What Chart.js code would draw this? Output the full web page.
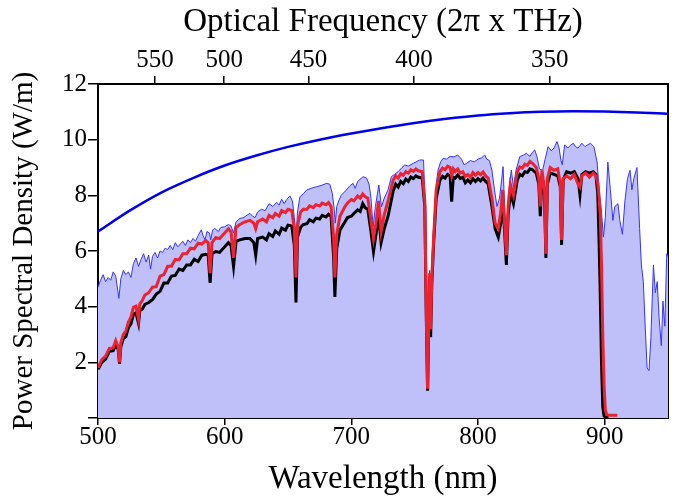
<!DOCTYPE html>
<html><head><meta charset="utf-8">
<script src="https://cdn.jsdelivr.net/npm/chart.js@4"></script>
<style>html,body{margin:0;padding:0;background:#fff}</style>
</head><body>
<canvas id="c" width="676" height="498"></canvas>
<script>
// ---- tick labels ----
const wlTicks = [500, 600, 700, 800, 900];
const freqTicks = [550, 500, 450, 400, 350];   // optical frequency (THz) labels on top axis
const yTicks = [0, 2, 4, 6, 8, 10, 12];

// ---- smooth blue reference curve ----
const smoothWl    = [500,525,550,575,600,625,650,675,700,725,750,775,800,825,850,875,900,925,950];
const smoothPower = [6.70,7.45,8.10,8.62,9.07,9.43,9.74,10.00,10.22,10.42,10.60,10.75,10.87,10.95,11.00,11.02,11.01,10.98,10.93];

// ---- filled (lavender) spectrum ----
const fillWl = [500,502,504,506,508,510,512,514,516.5,518,520,522,524,526,528,530,532,534,536,538,540,541.5,543,545,547,549,551,553,555,557,559,561,563,565,567,569,571,573,575,577,579,581.5,583,584.5,586,588,589,590.5,592,595,597,600,603,605,607,609,612,615,618,620,622,624,626,629,632,635,638,641,643,645,647,649,651.5,653.5,655,656.3,657.5,659.4,662,664.7,668,672.6,676,680.4,683,685,686.5,687.3,688.5,690,692,696,699,701.4,703,705,709.3,712,714,715.5,717.2,719,721.7,723.8,726,729,731.6,734,737,740,742.2,745,748.8,751,754,757,758,759.3,760.2,761.2,761.8,762.6,763.5,765,767,768.5,770.5,772.5,775,778,781,784,787,789,791,794,797,800,803,805.3,807,809,811,813,815,817,819.8,821,822.4,824,826.3,828,830,833,836,838.2,841,843,844.8,846.5,848.5,851,853,855.3,858,860,862.4,864,865.5,866.5,868.4,871,873,875.3,877,879,882,884.5,886,888.8,891.5,894,896,897.5,899,900.5,902.5,904.5,906.5,908,910.5,912,914,916,918,920,921.5,923,925.5,927.6,929,930.5,932,933.5,935,936.5,938.5,940,941.5,943,944.7,946,947.5,949,950];
const fillPower = [4.70,4.95,5.15,4.90,5.05,4.95,5.25,5.10,4.30,5.00,5.30,5.15,5.25,5.05,5.55,5.75,5.45,5.70,5.90,5.60,5.85,5.35,5.80,5.95,5.75,6.00,5.95,6.10,6.05,6.20,6.05,6.30,6.15,6.25,6.35,6.20,6.40,6.30,6.45,6.35,6.55,6.76,6.55,6.40,6.70,6.65,6.40,6.75,6.82,6.70,6.85,6.87,6.95,6.90,6.65,7.05,7.17,7.20,7.30,7.35,7.25,7.20,7.40,7.50,7.45,7.70,7.60,7.75,7.65,7.86,7.70,7.85,7.98,7.80,7.20,6.55,7.40,7.95,8.05,8.19,8.25,8.31,8.35,8.43,8.40,8.07,7.50,7.00,7.60,7.80,8.00,8.19,8.35,8.43,8.25,8.50,8.67,8.62,8.40,7.90,6.87,7.60,8.37,7.59,7.90,8.20,8.67,8.75,8.85,9.00,9.09,9.05,9.15,9.20,9.27,9.27,8.00,3.60,1.10,4.20,5.30,3.30,5.20,6.70,8.40,8.91,9.20,9.33,9.30,9.40,9.38,9.45,9.30,9.10,9.15,9.25,9.20,9.30,9.35,9.45,9.30,9.25,8.90,8.20,7.60,7.90,9.03,7.60,6.20,8.00,8.91,8.30,8.90,9.39,9.45,9.51,9.40,9.55,9.63,9.40,8.95,8.90,9.30,9.75,9.60,9.70,9.93,9.70,9.25,9.10,9.81,9.70,9.80,9.87,9.75,9.70,9.87,9.75,9.80,9.87,9.75,9.20,8.00,7.40,6.50,7.20,9.20,8.20,7.10,7.60,7.70,7.10,6.60,7.80,8.60,8.90,8.20,8.60,9.00,6.80,5.50,4.90,3.30,1.80,1.70,2.90,5.50,4.50,4.90,3.60,2.60,4.20,3.30,5.90,5.80];

// ---- measured red and black spectra (shared wavelength grid) ----
const lineWl = [500,503,506,509,512,514,516,517,518,520,522,524,526,528,530,
  532,533,535,537,540,543,546,549,552,555,558,561,564,567,570,
  573,576,579,582,585,587,588.5,590,593,596,600,603,605,607,609,
  612,616,620,623,624.5,626,630,633,635,638,640,643,645,648,650,653,655,656.3,657.5,
  660,662,665,667,670,672,675,677,680,682,684,686,687,688.5,691,
  695,697,700,702,705,707,709,711,713,
  715.5,717.5,719.5,721.5,723.5,726,729,733,735,737,739,741,743,745,747,749,751,753,756,758,
  759.3,760.2,761.2,761.8,762.6,763.5,765,767,
  770,772,774,776,778,779.2,780.5,782,784,786,788,790,792,794,796,798,800,802,804,806,808,
  811,813.5,816,818,819.5,821,822.4,823.8,825.5,828,
  831,833,835,837,839,841,843,846,848,849.2,850.5,852.5,853.6,854.8,857,860,863,865,
  866,867.2,870,873,876,879,880.5,882,885,888,891,893,894.5,895.5,896.5,
  897.5,898.5,899.5,900.5,901.5,903,906,910];
const redPower = [1.80,2.10,2.22,2.50,2.52,2.78,2.55,2.00,2.70,3.00,3.12,3.45,3.62,3.98,4.02,
  3.55,4.10,4.22,4.42,4.50,4.70,4.72,5.10,5.15,5.45,5.45,5.70,5.68,5.90,5.90,
  6.10,6.08,6.28,6.25,6.38,6.30,5.20,6.30,6.48,6.45,6.65,6.80,6.70,5.75,6.85,
  6.95,7.05,7.10,7.00,6.80,7.05,7.15,7.05,7.28,7.20,7.35,7.25,7.45,7.38,7.50,7.45,6.80,5.05,6.90,
  7.40,7.50,7.50,7.62,7.56,7.66,7.62,7.72,7.66,7.74,7.60,6.50,5.05,6.60,7.25,
  7.60,7.72,7.85,7.80,7.98,7.90,8.05,7.95,7.90,
  7.10,6.45,7.00,7.80,6.70,7.30,7.80,8.55,8.70,8.62,8.78,8.72,8.85,8.80,8.92,8.86,8.95,8.88,8.85,7.80,
  3.50,1.05,4.00,5.20,3.20,5.00,6.50,8.20,
  8.85,8.98,8.92,9.05,9.00,8.70,8.95,8.85,8.95,8.80,8.85,8.68,8.75,8.65,8.82,8.72,8.82,8.74,8.84,8.70,8.62,
  7.90,7.00,6.80,7.40,8.20,7.00,5.85,7.60,8.40,8.00,
  8.85,9.02,8.98,9.12,9.08,9.22,9.15,9.00,8.60,7.60,8.90,8.20,5.90,8.60,9.00,8.90,8.95,8.40,
  6.40,8.60,8.70,8.60,8.75,8.40,8.30,8.70,8.80,8.65,8.80,8.70,8.45,8.00,7.30,
  5.50,3.00,1.20,0.30,0.12,0.10,0.10,0.10];
const blackPower = [1.75,2.00,2.12,2.40,2.42,2.65,2.45,1.95,2.55,2.85,2.92,3.25,3.38,3.72,3.78,
  3.40,3.85,3.92,4.08,4.15,4.25,4.45,4.55,4.85,4.85,5.10,5.12,5.35,5.30,5.50,
  5.50,5.70,5.62,5.85,5.88,5.85,4.85,5.90,5.98,5.95,6.15,6.30,6.20,5.45,6.35,
  6.40,6.45,6.45,6.30,5.85,6.45,6.50,6.40,6.62,6.52,6.72,6.60,6.82,6.75,6.93,6.90,6.20,4.15,6.50,
  6.85,6.95,6.98,7.12,7.05,7.18,7.15,7.28,7.22,7.32,7.25,5.80,4.35,6.10,6.75,
  7.05,7.20,7.25,7.35,7.48,7.42,7.70,7.55,7.50,
  6.70,5.98,6.60,7.30,6.30,6.80,7.25,8.15,8.40,8.30,8.50,8.42,8.58,8.50,8.66,8.60,8.70,8.65,8.62,7.60,
  3.30,0.98,3.50,4.80,2.90,4.80,6.30,7.90,
  8.55,8.68,8.62,8.75,8.70,7.77,8.65,8.62,8.74,8.60,8.65,8.45,8.55,8.45,8.60,8.50,8.60,8.52,8.62,8.50,8.42,
  7.60,6.80,6.50,7.00,7.90,6.70,5.50,7.30,8.10,7.70,
  8.55,8.75,8.70,8.85,8.82,8.95,8.92,8.80,8.40,7.25,8.70,8.00,5.75,8.40,8.80,8.75,8.70,8.30,
  6.22,8.55,8.85,8.80,8.85,8.60,8.02,8.75,8.85,8.80,8.85,8.75,8.10,6.50,4.50,
  2.00,0.40,0.08,0.03,0.02,0.02,null,null];

const C_NM_THZ = 299792.458; // wavelength(nm) = C / frequency(THz)
const pts = (xs, ys) => xs.map((x, i) => ({x: x, y: ys[i]}));
const serif = "'Liberation Serif','Times New Roman',serif";
const black = '#000';

new Chart(document.getElementById('c'), {
  type: 'line',
  data: {
    datasets: [
      {data: pts(lineWl, redPower), borderColor: '#ec2230', borderWidth: 3, pointRadius: 0, fill: false, tension: 0, spanGaps: false},
      {data: pts(lineWl, blackPower), borderColor: '#000000', borderWidth: 3, pointRadius: 0, fill: false, tension: 0, spanGaps: false},
      {data: pts(smoothWl, smoothPower), borderColor: '#0000ee', borderWidth: 2.5, pointRadius: 0, fill: false, cubicInterpolationMode: 'monotone'},
      {data: pts(fillWl, fillPower), borderColor: '#3333ff', borderWidth: 1, pointRadius: 0, fill: 'origin', backgroundColor: '#bfbff9', tension: 0}
    ]
  },
  options: {
    responsive: false,
    animation: false,
    events: [],
    layout: {padding: 0},
    plugins: {legend: {display: false}, tooltip: {enabled: false}},
    scales: {
      x: {
        type: 'linear', position: 'bottom', min: 500, max: 950,
        afterBuildTicks: s => { s.ticks = wlTicks.map(v => ({value: v})); },
        afterFit: s => { s.height = 80; },
        ticks: {font: {family: serif, size: 25}, color: black, padding: -3, maxRotation: 0, autoSkip: false},
        grid: {drawOnChartArea: false, drawTicks: true, tickLength: 7, color: black, lineWidth: 1.5},
        border: {display: true, color: black, width: 2},
        title: {display: true, text: 'Wavelength (nm)', font: {family: serif, size: 33, lineHeight: 1}, color: black, padding: {top: 0, bottom: 2}}
      },
      x2: {
        type: 'linear', position: 'top', min: 500, max: 950,
        afterBuildTicks: s => { s.ticks = freqTicks.map(f => ({value: C_NM_THZ / f})); },
        afterFit: s => { s.height = 84; },
        ticks: {callback: v => String(Math.round(C_NM_THZ / v)), font: {family: serif, size: 25}, color: black, padding: 1, maxRotation: 0, autoSkip: false},
        grid: {drawOnChartArea: false, drawTicks: true, tickLength: 8, color: black, lineWidth: 1.5},
        border: {display: true, color: black, width: 2},
        title: {display: true, text: 'Optical Frequency (2π x THz)', font: {family: serif, size: 33, lineHeight: 1}, color: black, padding: {top: 6, bottom: 0}}
      },
      y: {
        type: 'linear', position: 'left', min: 0, max: 12,
        afterBuildTicks: s => { s.ticks = yTicks.map(v => ({value: v})); },
        afterFit: s => { s.width = 98; },
        ticks: {callback: v => (v === 0 ? '' : String(v)), font: {family: serif, size: 25}, color: black, padding: 1, autoSkip: false},
        grid: {drawOnChartArea: false, drawTicks: true, tickLength: 10, color: black, lineWidth: 1.5},
        border: {display: true, color: black, width: 2},
        title: {display: true, text: 'Power Spectral Density (W/m)', font: {family: serif, size: 29, lineHeight: 1}, color: black, padding: {top: 10, bottom: 0}}
      },
      y2: {
        type: 'linear', position: 'right', min: 0, max: 12,
        afterFit: s => { s.width = 8; },
        ticks: {display: false},
        grid: {display: false},
        border: {display: true, color: black, width: 2}
      }
    }
  }
});
</script>
</body></html>
